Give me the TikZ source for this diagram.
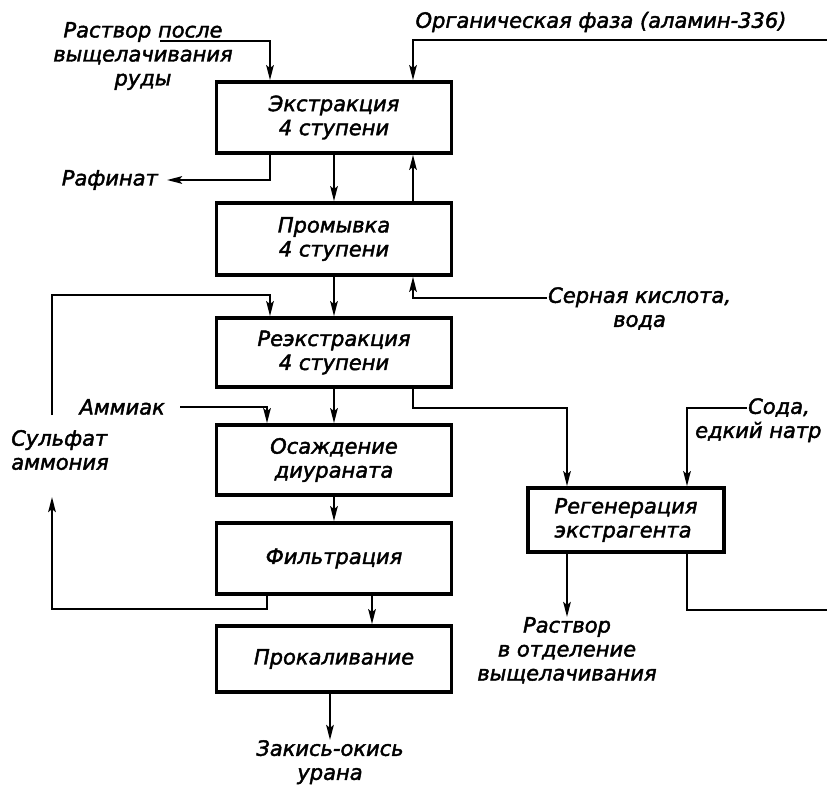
\documentclass[tikz,border=0pt]{standalone}
\usepackage{fontspec}
\setmainfont{DejaVu Sans}[ItalicFeatures={FakeBold=2}]
\usetikzlibrary{arrows.meta,calc}
\begin{document}
\begin{tikzpicture}[x=1pt,y=-1pt,
  font=\fontsize{21}{24}\selectfont\itshape,
  stage/.style={draw, line width=3.6pt, minimum width=235pt, align=center, inner sep=0pt},
  lbl/.style={inner sep=0pt, align=center},
  flow/.style={line width=2.3pt, -{Stealth[length=15pt,width=7.5pt,inset=3pt]}},
  pipe/.style={line width=2.3pt}]
\fill[white] (0,0) rectangle (827,785);
\useasboundingbox (0,0) rectangle (827,785);

% process stages
\node[stage, minimum height=71pt] (ext)   at (334,117.5) {Экстракция\\4 ступени};
\node[stage, minimum height=72pt] (wash)  at (334,239)   {Промывка\\4 ступени};
\node[stage, minimum height=69pt] (strip) at (334,352.5) {Реэкстракция\\4 ступени};
\node[stage, minimum height=70pt] (prec)  at (334,460)   {Осаждение\\диураната};
\node[stage, minimum height=71pt] (filt)  at (334,558.5) {Фильтрация};
\node[stage, minimum height=66pt] (roast) at (334,659)   {Прокаливание};
\node[stage, minimum width=196pt, minimum height=64pt, align=left] (regen) at (626,520) {Регенерация\\экстрагента};

% streams in and out
\node[lbl] (feed) at (143,56) {Раствор после\\выщелачивания\\руды};
\coordinate (feedin) at (160,41);
\node[lbl] (org) at (601,22) {Органическая фаза (аламин-336)};
\coordinate (orgin) at (827,40);
\node[lbl, anchor=east] (raf) at (158,180) {Рафинат};
\node[lbl, anchor=north west] (acid) at (548,287) {Серная кислота,\\вода};
\coordinate (acidin) at ($(acid.north west)+(-1,11)$);
\node[lbl, align=left] (sulf) at (60,450) {Сульфат\\аммония};
\coordinate (sulfin) at (52,497);
\coordinate (sulfout) at (52,415);
\node[lbl, anchor=east] (amm) at (165,407) {Аммиак};
\node[lbl, anchor=north west, align=left] (soda) at (695,398) {\hspace*{53pt}Сода,\\едкий натр};
\coordinate (sodain) at ($(soda.north west)+(52,10)$);
\node[lbl, anchor=north] (sol) at (567,617) {Раствор\\в отделение\\выщелачивания};
\node[lbl, anchor=north] (prod) at (330,740) {Закись-окись\\урана};
\coordinate (retout) at (827,610);

% extraction section
\draw[flow] (feedin) -| ($(ext.north)+(-64,0)$);
\draw[flow] (orgin) -| ($(ext.north)+(79,0)$);
\draw[flow] ($(ext.south)+(-64,0)$) |- ($(raf.east)+(9,0)$);
\draw[flow] (ext.south) -- (wash.north);
\draw[flow] ($(wash.north)+(79,0)$) -- ($(ext.south)+(79,0)$);
\draw[flow] (acidin) -| ($(wash.south)+(79,0)$);
\draw[flow] (wash.south) -- (strip.north);

% stripping and precipitation
\draw[flow] (sulfout) |- ($(strip.north)+(-64,-21)$) -- ($(strip.north)+(-64,0)$);
\draw[flow] ($(amm.east)+(15,0)$) -| ($(prec.north)+(-67,0)$);
\draw[flow] (strip.south) -- (prec.north);
\draw[flow] (prec.south) -- (filt.north);
\draw[flow] ($(filt.south)+(-67,0)$) -- ++(0,13) -| (sulfin);
\draw[flow] ($(filt.south)+(38,0)$) -- ($(roast.north)+(38,0)$);
\draw[flow] ($(roast.south)+(-4,0)$) -- (prod.north);

% solvent regeneration
\draw[flow] ($(strip.south)+(79,0)$) -- ++(0,19) -| ($(regen.north)+(-59,0)$);
\draw[flow] (sodain) -| ($(regen.north)+(61,0)$);
\draw[flow] ($(regen.south)+(-59,0)$) -- (sol.north);
\draw[pipe] ($(regen.south)+(61,0)$) |- (retout);
\end{tikzpicture}
\end{document}
